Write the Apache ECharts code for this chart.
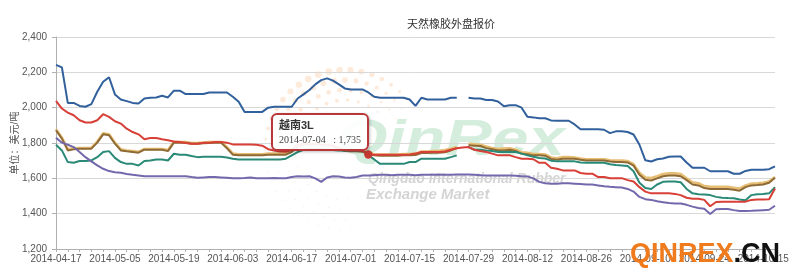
<!DOCTYPE html>
<html><head><meta charset="utf-8">
<script src="https://cdn.jsdelivr.net/npm/echarts@6/dist/echarts.min.js"></script>
<style>html,body{margin:0;padding:0;background:#fff}#c{width:800px;height:272px}</style>
</head><body><div id="c"></div>
<script>
const dates = [
'2014-04-17','2014-04-18','2014-04-21','2014-04-22','2014-04-23','2014-04-24','2014-04-25','2014-04-28','2014-04-29','2014-04-30',
'2014-05-05','2014-05-06','2014-05-07','2014-05-08','2014-05-09','2014-05-12','2014-05-13','2014-05-14','2014-05-15','2014-05-16',
'2014-05-19','2014-05-20','2014-05-21','2014-05-22','2014-05-23','2014-05-26','2014-05-27','2014-05-28','2014-05-29','2014-05-30',
'2014-06-03','2014-06-04','2014-06-05','2014-06-06','2014-06-09','2014-06-10','2014-06-11','2014-06-12','2014-06-13','2014-06-16',
'2014-06-17','2014-06-18','2014-06-19','2014-06-20','2014-06-23','2014-06-24','2014-06-25','2014-06-26','2014-06-27','2014-06-30',
'2014-07-01','2014-07-02','2014-07-03','2014-07-04','2014-07-07','2014-07-08','2014-07-09','2014-07-10','2014-07-11','2014-07-14',
'2014-07-15','2014-07-16','2014-07-17','2014-07-18','2014-07-21','2014-07-22','2014-07-23','2014-07-24','2014-07-25','2014-07-28',
'2014-07-29','2014-07-30','2014-07-31','2014-08-01','2014-08-04','2014-08-05','2014-08-06','2014-08-07','2014-08-08','2014-08-11',
'2014-08-12','2014-08-13','2014-08-14','2014-08-15','2014-08-18','2014-08-19','2014-08-20','2014-08-21','2014-08-22','2014-08-25',
'2014-08-26','2014-08-27','2014-08-28','2014-08-29','2014-09-01','2014-09-02','2014-09-03','2014-09-04','2014-09-05','2014-09-09',
'2014-09-10','2014-09-11','2014-09-12','2014-09-15','2014-09-16','2014-09-17','2014-09-18','2014-09-19','2014-09-22','2014-09-23',
'2014-09-24','2014-09-25','2014-09-26','2014-09-29','2014-09-30','2014-10-08','2014-10-09','2014-10-10','2014-10-13','2014-10-14',
'2014-10-15','2014-10-16','2014-10-17'];

const yTicks = [1200, 1400, 1600, 1800, 2000, 2200, 2400];

const rss3 = [2242,2228,2027,2027,2010,2005,2020,2090,2147,2172,
 2075,2046,2037,2027,2024,2052,2056,2058,2067,2058,
 2096,2096,2077,2077,2077,2077,2086,2086,2086,2086,
 2062,2033,1976,1976,1976,1976,2000,2005,2005,2005,
 2005,2052,2075,2100,2132,2156,2166,2153,2132,2109,
 2103,2103,2103,2086,2062,2056,2056,2056,2056,2056,
 2046,2010,2056,2046,2046,2046,2046,2056,2056,null,
 2056,2052,2052,2043,2043,2035,2008,2014,2014,2000,
 1948,1945,1940,1940,1928,1926,1926,1926,1905,1878,
 1878,1878,1878,1875,1856,1866,1866,1862,1848,1790,
 1702,1695,1708,1712,1722,1724,1724,1690,1660,1660,
 1660,1640,1640,1640,1640,1626,1626,1642,1648,1648,
 1648,1652,1668];

const vn3l = [2039,1995,1972,1957,1929,1916,1916,1929,1963,1948,
 1923,1910,1881,1862,1849,1821,1828,1828,1821,1815,
 1809,1806,1800,1796,1796,1802,1802,1806,1806,1802,
 1792,1792,1792,1792,1790,1785,1765,1758,1752,1750,
 1760,1790,1795,1795,1795,1792,1790,1785,1772,1760,
 1758,1758,1755,1735,1733,1733,1733,1733,1733,1733,
 1735,1740,1749,1749,1749,1749,1752,1762,1770,1775,
 1777,1762,1755,1749,1740,1730,1730,1730,1720,1711,
 1711,1708,1688,1688,1660,1654,1645,1645,1645,1630,
 1626,1626,1607,1607,1601,1601,1601,1590,1582,1550,
 1525,1515,1515,1515,1515,1512,1505,1490,1485,1485,
 1478,1442,1466,1468,1468,1468,1468,1468,1478,1480,
 1480,1482,1542];

const str20 = [1872,1825,1758,1764,1768,1768,1768,1802,1849,1844,
 1796,1758,1753,1749,1745,1762,1762,1762,1762,1754,
 1802,1802,1802,1796,1796,1798,1800,1802,1802,1770,
 1734,1730,1730,1730,1730,1730,1734,1734,1734,1734,
 1749,1777,1792,1790,1790,1788,1785,1780,1765,1755,
 1753,1753,1750,1740,1730,1728,1728,1728,1728,1730,
 1730,1732,1743,1743,1745,1745,1748,1758,1771,null,
 1787,1785,1783,1771,1765,1758,1758,1762,1755,1739,
 1737,1730,1730,1728,1710,1705,1711,1711,1711,1705,
 1701,1701,1701,1701,1695,1692,1692,1690,1672,1620,
 1592,1588,1600,1612,1616,1616,1612,1590,1565,1560,
 1545,1540,1540,1540,1540,1535,1530,1550,1560,1562,
 1565,1575,1603];

const smr20 = [1878,1830,1765,1770,1772,1772,1772,1808,1855,1850,
 1802,1764,1758,1754,1750,1766,1766,1766,1766,1760,
 1806,1806,1806,1800,1800,1802,1805,1806,1806,1776,
 1740,1736,1736,1736,1736,1736,1740,1740,1740,1740,
 1755,1782,1796,1795,1795,1792,1790,1785,1770,1760,
 1758,1758,1755,1746,1736,1735,1735,1735,1735,1737,
 1738,1740,1752,1752,1754,1756,1760,1768,1778,null,
 1795,1793,1790,1780,1772,1766,1768,1770,1762,1748,
 1745,1738,1738,1735,1718,1714,1720,1720,1718,1712,
 1708,1708,1708,1708,1702,1700,1700,1698,1680,1632,
 1605,1602,1612,1624,1628,1628,1624,1600,1578,1572,
 1556,1552,1552,1552,1552,1546,1542,1560,1570,1572,
 1575,1582,1608];

const sir20 = [1790,1758,1692,1688,1698,1698,1701,1720,1749,1754,
 1716,1692,1682,1682,1673,1698,1701,1707,1707,1701,
 1739,1734,1734,1726,1720,1722,1722,1722,1722,1718,
 1711,1707,1707,1707,1707,1707,1707,1707,1707,1711,
 1730,1749,1762,1768,1768,1766,1764,1760,1758,1758,
 1758,1758,1755,1730,1707,1682,1682,1682,1682,1682,
 1692,1692,1711,1711,1711,1711,1711,1720,1730,null,
 1777,1762,1762,1758,1755,1749,1749,1749,1749,1740,
 1730,1722,1715,1712,1700,1696,1696,1696,1696,1690,
 1688,1688,1688,1688,1680,1675,1673,1670,1640,1575,
 1545,1540,1565,1580,1582,1582,1578,1540,1515,1510,
 1508,1505,1495,1490,1488,1487,1480,1476,1505,1510,
 1512,1515,1550];

const svr10 = [1830,1802,1790,1777,1749,1720,1696,1673,1654,1641,
 1635,1631,1625,1620,1616,1612,1612,1612,1612,1612,
 1612,1612,1612,1607,1603,1605,1607,1607,1605,1603,
 1600,1600,1602,1605,1600,1600,1600,1602,1600,1600,
 1608,1612,1610,1612,1600,1580,1605,1612,1610,1605,
 1603,1608,1616,1616,1618,1620,1620,1618,1620,1620,
 1620,1618,1620,1620,1620,1622,1620,1620,1622,1622,
 1622,1620,1618,1616,1616,1616,1616,1616,1614,1612,
 1610,1600,1580,1572,1570,1570,1572,1572,1570,1568,
 1565,1565,1560,1555,1552,1550,1548,1540,1525,1495,
 1482,1478,1470,1465,1460,1458,1458,1450,1440,1432,
 1428,1398,1425,1426,1426,1420,1415,1415,1416,1418,
 1420,1422,1445];

const seriesNames = ['泰国3号烟片','马来西亚20号标胶','泰国20号标胶','印尼20号标胶','越南10号','越南3L'];
const seriesData  = [rss3, smr20, str20, sir20, svr10, vn3l];
const seriesColors = ['#31609c','#e6bd72','#8e6b36','#2a8a77','#7468ad','#c43a32'];
const seriesWidths = [2, 2.6, 2, 2, 2, 2];
const tipSeries = 5, tipIndex = 53;

const FONT = "'Liberation Sans','Noto Sans CJK SC',sans-serif";

// decorative halftone dots of the watermark logo
const dots = [];
const cx = 345, cy = 150;
for (let ring = 0; ring < 4; ring++) {
  const r = 50 + ring * 10;
  const n = Math.round(2 * Math.PI * r / 11);
  for (let k = 0; k < n; k++) {
    const deg = k / n * 360;
    if (deg < 30 || deg > 275) continue;
    const t = (deg - 30) / 245;
    const s = Math.max(0.6, 3.2 * Math.sin(Math.PI * Math.min(1, t * 1.4 + 0.05)) * (0.6 + ring * 0.15));
    const a = deg * Math.PI / 180;
    dots.push({type:'circle', silent:true, z:-1,
      shape:{cx: cx + r * Math.cos(a), cy: cy - r * Math.sin(a), r: s},
      style:{fill:'rgba(246,168,100,0.24)'}});
  }
}

const chart = echarts.init(document.getElementById('c'), null, {renderer:'canvas'});
chart.setOption({
  animation:false,
  backgroundColor:'#fff',
  title:{text:'天然橡胶外盘报价', left:446, top:14, textAlign:'center',
    textStyle:{fontSize:11, fontWeight:'normal', color:'#333', fontFamily:FONT}},
  grid:{left:56, right:25, top:37, bottom:23, outerBoundsMode:'none', containLabel:false},
  tooltip:{
    trigger:'item', triggerOn:'none', alwaysShowContent:true,
    backgroundColor:'rgba(255,255,255,0.93)', borderColor:'#b8383a', borderWidth:2, borderRadius:6,
    padding:[3,6], textStyle:{color:'#333', fontSize:11},
    extraCssText:'box-shadow:1px 1px 3px rgba(0,0,0,0.25);',
    position:function(pt, params, dom, rect, size){ return [pt[0]-size.contentSize[0]+1, pt[1]-size.contentSize[1]-3]; },
    formatter:function(p){
      return '<div style="font-weight:bold;font-size:11px;line-height:15px;font-family:\'Liberation Sans\',\'Noto Sans CJK SC\',sans-serif">'+p.seriesName+'</div>'+
        '<div style="font-family:\'Liberation Serif\',\'DejaVu Serif\',serif;font-size:10px;line-height:13px;color:#444">'+dates[p.dataIndex]+'&nbsp;&nbsp;&nbsp;: '+Number(p.value).toLocaleString('en-US')+'</div>';
    }
  },
  graphic:[].concat(dots, [
    {type:'text', silent:true, z:-1, x:337, y:116, scaleX:1.3,
      style:{text:'QinRex', font:'italic bold 50px "Liberation Sans"', fill:'rgba(120,200,150,0.32)'}},
    {type:'text', silent:true, z:-1, x:368, y:172,
      style:{text:'Qingdao International Rubber', font:'italic bold 14px "Liberation Sans"', fill:'rgba(160,160,160,0.45)'}},
    {type:'text', silent:true, z:-1, x:366, y:187,
      style:{text:'Exchange Market', font:'italic bold 15px "Liberation Sans"', fill:'rgba(160,160,160,0.45)'}},
    {type:'text', silent:true, z:100, x:630, y:241,
      style:{text:'{o|QINREX}{b|.CN}', rich:{
        o:{font:'bold 27px "Liberation Sans"', fill:'#f07b1c'},
        b:{font:'bold 27px "Liberation Sans"', fill:'#111'}}}}
  ]),
  xAxis:{type:'category', data:dates, boundaryGap:false,
    axisLine:{lineStyle:{color:'#b0b0b0'}},
    axisTick:{interval:1, length:3, lineStyle:{color:'#b0b0b0'}},
    axisLabel:{interval:9, color:'#555', fontSize:10, margin:5, fontFamily:FONT},
    splitLine:{show:false}},
  yAxis:{type:'value', min:yTicks[0], max:yTicks[yTicks.length-1], interval:200,
    name:'单位：美元/吨', nameLocation:'middle', nameRotate:90, nameGap:36, nameMoveOverlap:false,
    nameTextStyle:{fontSize:10, color:'#555', fontFamily:FONT},
    axisLine:{show:true, lineStyle:{color:'#b0b0b0'}},
    axisTick:{show:true, length:4, lineStyle:{color:'#b0b0b0'}},
    axisLabel:{color:'#555', fontSize:10, margin:9, fontFamily:FONT,
      formatter:function(v){ return v.toLocaleString('en-US'); }},
    splitLine:{lineStyle:{color:'#d8d8d8'}}},
  series: seriesNames.map(function(n, i){
    return {name:n, type:'line', data:seriesData[i], showSymbol:false, symbol:'circle', symbolSize:7,
      connectNulls:false, z:2+i,
      lineStyle:{color:seriesColors[i], width:seriesWidths[i]},
      itemStyle:{color:seriesColors[i]},
      emphasis:{scale:1.2, lineStyle:{width:seriesWidths[i]}}};
  })
});
chart.dispatchAction({type:'highlight', seriesIndex:tipSeries, dataIndex:tipIndex});
chart.dispatchAction({type:'showTip', seriesIndex:tipSeries, dataIndex:tipIndex});
</script></body></html>
